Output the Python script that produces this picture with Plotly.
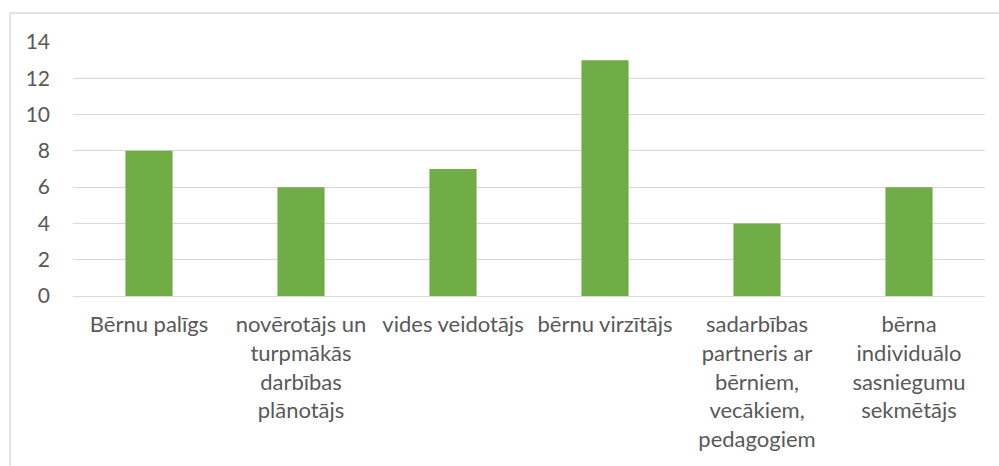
import plotly.graph_objects as go

categories = [
    "Bērnu palīgs",
    "novērotājs un<br>turpmākās<br>darbības<br>plānotājs",
    "vides veidotājs",
    "bērnu virzītājs",
    "sadarbības<br>partneris ar<br>bērniem,<br>vecākiem,<br>pedagogiem",
    "bērna<br>individuālo<br>sasniegumu<br>sekmētājs",
]
values = [8, 6, 7, 13, 4, 6]
y_ticks = [0, 2, 4, 6, 8, 10, 12, 14]

TEXT = "#595959"
GRID = "#D9D9D9"
FONT = "Lato"

fig = go.Figure(go.Bar(x=categories, y=values, marker_color="#70AD47",
                       marker_line_width=0))

fig.update_layout(
    width=999, height=466,
    margin=dict(l=73, r=14, t=42, b=170),
    paper_bgcolor="white", plot_bgcolor="white",
    bargap=0.69,
    showlegend=False,
    font=dict(family=FONT, size=22, color=TEXT),
    xaxis=dict(showgrid=False, ticks="", showline=True, linecolor=GRID,
               linewidth=1, tickfont=dict(size=22, color=TEXT),
               ticklabelstandoff=9),
    yaxis=dict(range=[0, 14], tickvals=y_ticks, showgrid=True, gridcolor=GRID,
               gridwidth=1, zeroline=True, zerolinecolor=GRID, zerolinewidth=1,
               ticks="", showline=False, tickfont=dict(size=21, color=TEXT),
               ticklabelstandoff=22),
    shapes=[
        dict(type="line", xref="paper", yref="paper",
             x0=-0.0691, x1=-0.0691, y0=1.114, y1=-1.0,
             line=dict(color=GRID, width=1.5)),
        dict(type="line", xref="paper", yref="paper",
             x0=-0.0691, x1=1.1, y0=1.114, y1=1.114,
             line=dict(color=GRID, width=1.5)),
    ],
)

fig.write_html("out.html",
               config={"displayModeBar": False},
               post_script="document.body.style.margin='0';document.body.style.overflow='hidden';")
